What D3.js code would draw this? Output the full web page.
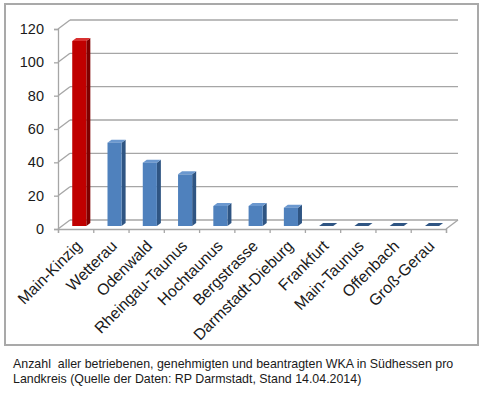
<!DOCTYPE html>
<html lang="de">
  <meta charset="UTF-8" />
  <title>WKA Südhessen</title>
  <style>
    body { margin: 0; background: #fff; }
    text { font-family: "Liberation Sans", Arial, sans-serif; fill: #1a1a1a; }
  </style>
  <script src="https://d3js.org/d3.v7.min.js"></script>
  <body>
    <div id="chart"></div>
    <script>
      // Landkreise and number of WKA
      const categories = ["Main-Kinzig", "Wetterau", "Odenwald", "Rheingau-Taunus", "Hochtaunus",
        "Bergstrasse", "Darmstadt-Dieburg", "Frankfurt", "Main-Taunus", "Offenbach", "Groß-Gerau"];
      const values = [111, 50, 38, 31, 12, 12, 11, 0, 0, 0, 0];
      const highlight = ["Main-Kinzig"];
      const yTicks = [0, 20, 40, 60, 80, 100, 120];
      const caption = [
        "Anzahl  aller betriebenen, genehmigten und beantragten WKA in Südhessen pro",
        "Landkreis (Quelle der Daten: RP Darmstadt, Stand 14.04.2014)"
      ];

      const W = 483, H = 395;
      // depth of the pseudo 3d plot (back wall offset)
      const depth = { x: 12, y: -9 };

      const svg = d3.select("#chart").append("svg")
        .attr("width", W).attr("height", H);

      // frame
      svg.append("rect")
        .attr("x", 5).attr("y", 4).attr("width", 473).attr("height", 341)
        .attr("fill", "none").attr("stroke", "#a9a9a9").attr("stroke-width", 2);

      const x = d3.scaleBand().domain(categories).range([58, 446]).paddingInner(0);
      const xi = d3.scaleLinear().domain([0, categories.length]).range([58, 446]);
      const y = d3.scaleLinear().domain([0, 120]).range([229, 29]);

      const grid = svg.append("g").attr("stroke", "#a6a6a6").attr("stroke-width", 1.3).attr("fill", "none");
      // back wall gridlines + left wall diagonals
      yTicks.forEach(v => {
        grid.append("line")
          .attr("x1", x.range()[0] + depth.x).attr("x2", x.range()[1] + depth.x)
          .attr("y1", y(v) + depth.y).attr("y2", y(v) + depth.y);
        grid.append("line")
          .attr("x1", x.range()[0]).attr("x2", x.range()[0] + depth.x)
          .attr("y1", y(v)).attr("y2", y(v) + depth.y);
      });
      // floor right edge
      grid.append("line")
        .attr("x1", x.range()[1]).attr("x2", x.range()[1] + depth.x)
        .attr("y1", y(0)).attr("y2", y(0) + depth.y);

      // y axis
      const yAxis = svg.append("g")
        .attr("transform", "translate(58,0)")
        .call(d3.axisLeft(y).tickValues(yTicks).tickSize(4).tickPadding(10));
      yAxis.selectAll("path, line").attr("stroke", "#a6a6a6").attr("stroke-width", 1.3);
      yAxis.selectAll("text").attr("font-size", 14.5).attr("fill", "#1a1a1a")
        .style("font-family", '"Liberation Sans", Arial, sans-serif');

      // x axis (ticks between categories)
      const xAxis = svg.append("g")
        .attr("transform", "translate(0," + y(0) + ")")
        .call(d3.axisBottom(xi).ticks(categories.length).tickSize(4).tickFormat(""));
      xAxis.selectAll("path, line").attr("stroke", "#a6a6a6").attr("stroke-width", 1.3);

      // bars: front face on plane 1/3 into depth, back face at 2/3
      const f0 = 1 / 3, f1 = 2 / 3;
      const bw = x.bandwidth() * 0.4;
      const bars = svg.append("g");
      categories.forEach((c, i) => {
        const v = values[i];
        const red = highlight.includes(c);
        const col = red ? { front: "#c00000", side: "#7f0000", top: "#d83030" }
                        : { front: "#4f81bd", side: "#2f5583", top: "#6b98cf" };
        const x0 = x(c) + x.bandwidth() * 0.29 + depth.x * f0;
        const x1 = x0 + bw;
        const yb = y(0) + depth.y * f0;
        const yt = y(v) + depth.y * f0;
        const dx = depth.x * (f1 - f0), dy = depth.y * (f1 - f0);
        const g = bars.append("g");
        // side
        g.append("path")
          .attr("d", `M${x1},${yb}L${x1 + dx},${yb + dy}L${x1 + dx},${yt + dy}L${x1},${yt}Z`)
          .attr("fill", col.side);
        // top
        g.append("path")
          .attr("d", `M${x0},${yt}L${x1},${yt}L${x1 + dx},${yt + dy}L${x0 + dx},${yt + dy}Z`)
          .attr("fill", v > 0 ? col.top : col.side);
        // front
        if (v > 0) {
          g.append("rect")
            .attr("x", x0).attr("y", yt).attr("width", bw).attr("height", yb - yt)
            .attr("fill", col.front);
        }
      });

      // category labels
      svg.append("g").selectAll("text")
        .data(categories)
        .join("text")
        .attr("transform", d => `translate(${x(d) + x.bandwidth() / 2 + 7},247) rotate(-45)`)
        .attr("text-anchor", "end")
        .attr("font-size", 15.8)
        .text(d => d);

      // caption
      svg.append("g").selectAll("text")
        .data(caption)
        .join("text")
        .attr("x", 13)
        .attr("y", (d, i) => 368 + i * 14.5)
        .attr("font-size", 12.4)
        .style("white-space", "pre")
        .text(d => d);
    </script>
  </body>
</html>
